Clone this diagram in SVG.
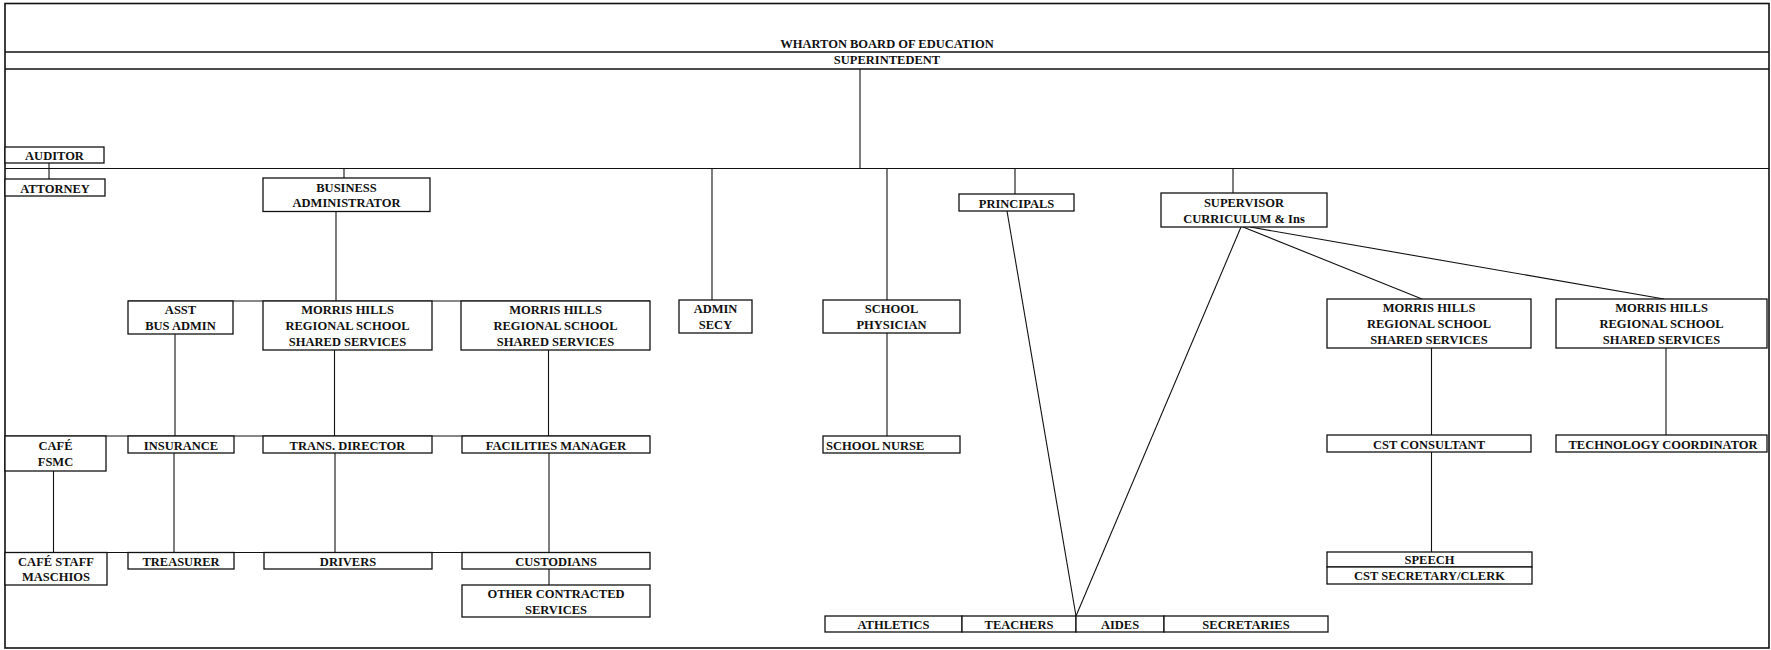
<svg xmlns="http://www.w3.org/2000/svg" width="1771" height="650" viewBox="0 0 1771 650">
<style>
.b{fill:#fff;stroke:#111;stroke-width:1.3}
.t{font-family:"Liberation Serif","Times New Roman",serif;font-weight:bold;font-size:12.5px;fill:#111;text-anchor:middle}
.l{text-anchor:start}
.c{stroke:#111;stroke-width:1.1;fill:none}
.f{stroke:#111;stroke-width:1.6;fill:none}
</style>
<rect width="1771" height="650" fill="#fff"/>
<g id="frame">
<rect class="f" x="5" y="3.5" width="1764" height="644.5"/>
<line class="f" x1="5" y1="52" x2="1769" y2="52"/>
<line class="f" x1="5" y1="69" x2="1769" y2="69"/>
</g>
<g id="connectors">
<line class="c" x1="860" y1="69" x2="860" y2="168.5"/>
<line class="c" x1="5" y1="168.5" x2="1769" y2="168.5"/>
<line class="c" x1="49" y1="163" x2="49" y2="179"/>
<line class="c" x1="344" y1="168.5" x2="344" y2="178"/>
<line class="c" x1="336" y1="211.5" x2="336" y2="301"/>
<line class="c" x1="128" y1="301" x2="650" y2="301"/>
<line class="c" x1="712" y1="168.5" x2="712" y2="300"/>
<line class="c" x1="887" y1="168.5" x2="887" y2="300"/>
<line class="c" x1="887" y1="333" x2="887" y2="436"/>
<line class="c" x1="1015" y1="168.5" x2="1015" y2="194"/>
<line class="c" x1="1233" y1="168.5" x2="1233" y2="193"/>
<line class="c" x1="175" y1="334" x2="175" y2="436"/>
<line class="c" x1="334.5" y1="350" x2="334.5" y2="436"/>
<line class="c" x1="548.5" y1="350" x2="548.5" y2="436"/>
<line class="c" x1="5" y1="436" x2="650" y2="436"/>
<line class="c" x1="53.5" y1="471" x2="53.5" y2="552.5"/>
<line class="c" x1="174" y1="453" x2="174" y2="552.5"/>
<line class="c" x1="335" y1="453" x2="335" y2="552.5"/>
<line class="c" x1="549" y1="453" x2="549" y2="552.5"/>
<line class="c" x1="5" y1="552.5" x2="650" y2="552.5"/>
<line class="c" x1="549" y1="569" x2="549" y2="585"/>
<line class="c" x1="1007" y1="211" x2="1076" y2="616"/>
<line class="c" x1="1241" y1="227" x2="1076" y2="616"/>
<line class="c" x1="1243" y1="227" x2="1422" y2="299"/>
<line class="c" x1="1250" y1="227" x2="1664" y2="299"/>
<line class="c" x1="1431.5" y1="348" x2="1431.5" y2="435"/>
<line class="c" x1="1666" y1="348" x2="1666" y2="435"/>
<line class="c" x1="1431.5" y1="452" x2="1431.5" y2="552"/>
</g>
<g id="board"><text class="t" x="887" y="47.5">WHARTON BOARD OF EDUCATION</text></g>
<g id="superintendent"><text class="t" x="887" y="64">SUPERINTEDENT</text></g>
<g id="auditor"><rect class="b" x="5" y="147" width="99" height="16"/><text class="t" x="54.5" y="160">AUDITOR</text></g>
<g id="attorney"><rect class="b" x="5" y="179" width="100" height="17"/><text class="t" x="55" y="192.5">ATTORNEY</text></g>
<g id="business-admin"><rect class="b" x="263" y="178" width="167" height="33.5"/><text class="t" x="346.5" y="191.5">BUSINESS</text><text class="t" x="346.5" y="207">ADMINISTRATOR</text></g>
<g id="asst-bus-admin"><rect class="b" x="128" y="301" width="105" height="33"/><text class="t" x="180.5" y="314">ASST</text><text class="t" x="180.5" y="330">BUS ADMIN</text></g>
<g id="morris-hills-1"><rect class="b" x="263" y="301" width="169" height="49"/><text class="t" x="347.5" y="314">MORRIS HILLS</text><text class="t" x="347.5" y="330">REGIONAL SCHOOL</text><text class="t" x="347.5" y="346">SHARED SERVICES</text></g>
<g id="morris-hills-2"><rect class="b" x="461" y="301" width="189" height="49"/><text class="t" x="555.5" y="314">MORRIS HILLS</text><text class="t" x="555.5" y="330">REGIONAL SCHOOL</text><text class="t" x="555.5" y="346">SHARED SERVICES</text></g>
<g id="admin-secy"><rect class="b" x="679" y="300" width="73" height="33"/><text class="t" x="715.5" y="313">ADMIN</text><text class="t" x="715.5" y="329">SECY</text></g>
<g id="school-physician"><rect class="b" x="823" y="300" width="137" height="33"/><text class="t" x="891.5" y="313">SCHOOL</text><text class="t" x="891.5" y="329">PHYSICIAN</text></g>
<g id="principals"><rect class="b" x="959" y="194" width="115" height="17"/><text class="t" x="1016.5" y="207.5">PRINCIPALS</text></g>
<g id="supervisor"><rect class="b" x="1161" y="193" width="166" height="34"/><text class="t" x="1244" y="206.5">SUPERVISOR</text><text class="t" x="1244" y="222.5">CURRICULUM &amp; Ins</text></g>
<g id="morris-hills-3"><rect class="b" x="1327" y="299" width="204" height="49"/><text class="t" x="1429" y="312">MORRIS HILLS</text><text class="t" x="1429" y="328">REGIONAL SCHOOL</text><text class="t" x="1429" y="344">SHARED SERVICES</text></g>
<g id="morris-hills-4"><rect class="b" x="1556" y="299" width="211" height="49"/><text class="t" x="1661.5" y="312">MORRIS HILLS</text><text class="t" x="1661.5" y="328">REGIONAL SCHOOL</text><text class="t" x="1661.5" y="344">SHARED SERVICES</text></g>
<g id="cafe-fsmc"><rect class="b" x="5" y="436" width="101" height="35"/><text class="t" x="55.5" y="449.5">CAFÉ</text><text class="t" x="55.5" y="465.5">FSMC</text></g>
<g id="insurance"><rect class="b" x="128" y="436" width="106" height="17"/><text class="t" x="181" y="449.5">INSURANCE</text></g>
<g id="trans-director"><rect class="b" x="263" y="436" width="169" height="17"/><text class="t" x="347.5" y="449.5">TRANS. DIRECTOR</text></g>
<g id="facilities-manager"><rect class="b" x="462" y="436" width="188" height="17"/><text class="t" x="556" y="449.5">FACILITIES MANAGER</text></g>
<g id="school-nurse"><rect class="b" x="823" y="436" width="137" height="17"/><text class="t l" x="826" y="449.5">SCHOOL NURSE</text></g>
<g id="cst-consultant"><rect class="b" x="1327" y="435" width="204" height="17"/><text class="t" x="1429" y="448.5">CST CONSULTANT</text></g>
<g id="technology-coordinator"><rect class="b" x="1556" y="435" width="211" height="17"/><text class="t" x="1663" y="448.5">TECHNOLOGY COORDINATOR</text></g>
<g id="cafe-staff"><rect class="b" x="5" y="552.5" width="102" height="32.5"/><text class="t" x="56" y="565.5">CAFÉ STAFF</text><text class="t" x="56" y="581">MASCHIOS</text></g>
<g id="treasurer"><rect class="b" x="128" y="552.5" width="106" height="16.5"/><text class="t" x="181" y="565.5">TREASURER</text></g>
<g id="drivers"><rect class="b" x="264" y="552.5" width="168" height="16.5"/><text class="t" x="348" y="565.5">DRIVERS</text></g>
<g id="custodians"><rect class="b" x="462" y="552.5" width="188" height="16.5"/><text class="t" x="556" y="565.5">CUSTODIANS</text></g>
<g id="other-contracted"><rect class="b" x="462" y="585" width="188" height="32"/><text class="t" x="556" y="598">OTHER CONTRACTED</text><text class="t" x="556" y="613.5">SERVICES</text></g>
<g id="speech"><rect class="b" x="1327" y="552" width="205" height="15"/><text class="t" x="1429.5" y="564">SPEECH</text></g>
<g id="cst-secretary"><rect class="b" x="1327" y="567" width="205" height="17"/><text class="t" x="1429.5" y="580">CST SECRETARY/CLERK</text></g>
<g id="athletics"><rect class="b" x="825" y="616" width="137" height="16"/><text class="t" x="893.5" y="628.5">ATHLETICS</text></g>
<g id="teachers"><rect class="b" x="962" y="616" width="114" height="16"/><text class="t" x="1019" y="628.5">TEACHERS</text></g>
<g id="aides"><rect class="b" x="1076" y="616" width="88" height="16"/><text class="t" x="1120" y="628.5">AIDES</text></g>
<g id="secretaries"><rect class="b" x="1164" y="616" width="164" height="16"/><text class="t" x="1246" y="628.5">SECRETARIES</text></g>
</svg>
